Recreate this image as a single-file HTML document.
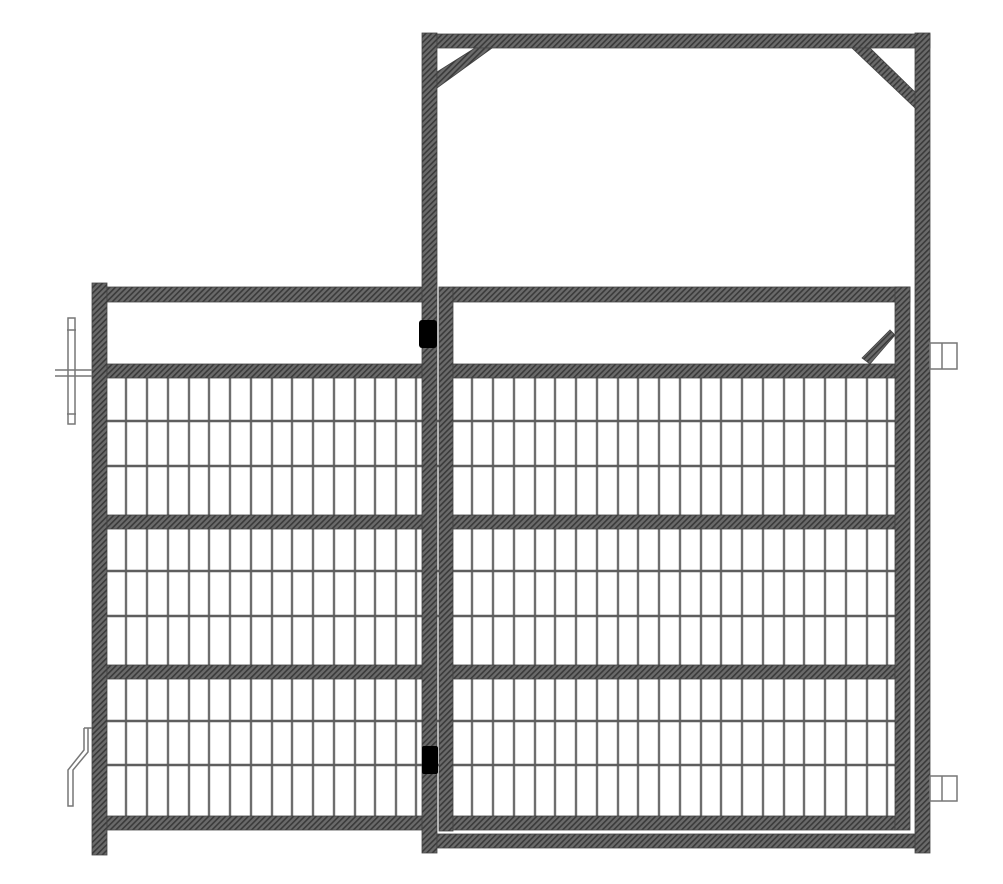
<!DOCTYPE html>
<html><head><meta charset="utf-8"><style>html,body{margin:0;padding:0;background:#fff}svg{display:block}</style></head>
<body>
<svg width="1003" height="884" viewBox="0 0 1003 884" xmlns="http://www.w3.org/2000/svg">
<defs>
<pattern id="h" width="4" height="4" patternUnits="userSpaceOnUse" patternTransform="rotate(45)">
<rect width="4" height="4" fill="#6a6a6a"/><rect width="1.6" height="4" fill="#3a3a3a"/>
</pattern>
</defs>
<g stroke="#6e6e6e" stroke-width="2.4">
<line x1="126" y1="378" x2="126" y2="816"/><line x1="147" y1="378" x2="147" y2="816"/><line x1="168" y1="378" x2="168" y2="816"/><line x1="189" y1="378" x2="189" y2="816"/><line x1="209" y1="378" x2="209" y2="816"/><line x1="230" y1="378" x2="230" y2="816"/><line x1="251" y1="378" x2="251" y2="816"/><line x1="272" y1="378" x2="272" y2="816"/><line x1="292" y1="378" x2="292" y2="816"/><line x1="313" y1="378" x2="313" y2="816"/><line x1="334" y1="378" x2="334" y2="816"/><line x1="355" y1="378" x2="355" y2="816"/><line x1="375" y1="378" x2="375" y2="816"/><line x1="396" y1="378" x2="396" y2="816"/><line x1="416" y1="378" x2="416" y2="816"/>
<line x1="472" y1="378" x2="472" y2="816"/><line x1="493" y1="378" x2="493" y2="816"/><line x1="514" y1="378" x2="514" y2="816"/><line x1="535" y1="378" x2="535" y2="816"/><line x1="555" y1="378" x2="555" y2="816"/><line x1="576" y1="378" x2="576" y2="816"/><line x1="597" y1="378" x2="597" y2="816"/><line x1="618" y1="378" x2="618" y2="816"/><line x1="638" y1="378" x2="638" y2="816"/><line x1="659" y1="378" x2="659" y2="816"/><line x1="680" y1="378" x2="680" y2="816"/><line x1="701" y1="378" x2="701" y2="816"/><line x1="721" y1="378" x2="721" y2="816"/><line x1="742" y1="378" x2="742" y2="816"/><line x1="763" y1="378" x2="763" y2="816"/><line x1="784" y1="378" x2="784" y2="816"/><line x1="804" y1="378" x2="804" y2="816"/><line x1="825" y1="378" x2="825" y2="816"/><line x1="846" y1="378" x2="846" y2="816"/><line x1="867" y1="378" x2="867" y2="816"/><line x1="887" y1="378" x2="887" y2="816"/>
<g stroke="#5e5e5e">
<line x1="107" y1="421" x2="895" y2="421"/><line x1="107" y1="466" x2="895" y2="466"/><line x1="107" y1="571" x2="895" y2="571"/><line x1="107" y1="616" x2="895" y2="616"/><line x1="107" y1="721" x2="895" y2="721"/><line x1="107" y1="765" x2="895" y2="765"/>
</g>
</g>
<g fill="url(#h)" stroke="#444" stroke-width="0.8">
<rect x="92" y="283" width="15" height="572"/>
<rect x="107" y="287" width="316" height="15"/>
<rect x="107" y="364" width="316" height="14"/>
<rect x="107" y="515" width="316" height="14"/>
<rect x="107" y="665" width="316" height="14"/>
<rect x="107" y="816" width="316" height="14"/>
<rect x="439" y="287" width="14" height="544"/>
<rect x="453" y="287" width="457" height="15"/>
<rect x="453" y="364" width="442" height="14"/>
<rect x="453" y="515" width="442" height="14"/>
<rect x="453" y="665" width="442" height="14"/>
<rect x="453" y="816" width="442" height="14"/>
<rect x="895" y="287" width="15" height="543"/>
<rect x="422" y="33" width="15" height="820"/>
<rect x="437" y="34" width="493" height="14"/>
<rect x="915" y="33" width="15" height="820"/>
<rect x="437" y="834" width="478" height="14"/>
<polygon points="437,72 475,48 492,48 437,88"/>
<polygon points="852,48 870,48 915,92 915,108"/>
<polygon points="862,358 890,330 895,335 870,364"/>
</g>
<rect x="419" y="320" width="18" height="28" rx="3" fill="#000"/>
<rect x="422" y="746" width="16" height="28" rx="2" fill="#000"/>
<g fill="none" stroke="#777" stroke-width="1.5">
<rect x="68" y="318" width="7" height="106"/>
<line x1="55" y1="370" x2="92" y2="370"/><line x1="55" y1="376" x2="92" y2="376"/>
<line x1="67" y1="330" x2="76" y2="330"/><line x1="67" y1="414" x2="76" y2="414"/>
<path d="M84,728 L92,728 M88,728 L88,752 L73,770 L73,806 L68,806 L68,770 L84,750 L84,728"/>
<rect x="930" y="343" width="27" height="26"/><line x1="942" y1="343" x2="942" y2="369"/>
<rect x="930" y="776" width="27" height="25"/><line x1="942" y1="776" x2="942" y2="801"/>
</g>
</svg>
</body></html>
